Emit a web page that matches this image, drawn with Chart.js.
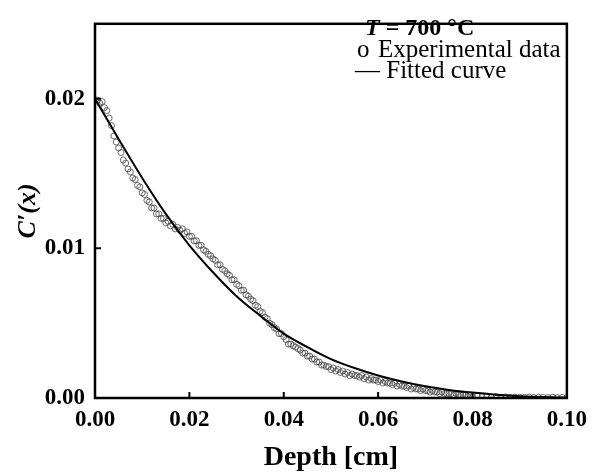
<!DOCTYPE html>
<html>
<head>
<meta charset="utf-8">
<script src="https://cdn.jsdelivr.net/npm/chart.js@4"></script>
<style>
  html, body { margin: 0; padding: 0; background: #fff; }
  #wrap { width: 595px; height: 472px; }
</style>
</head>
<body>
<div id="wrap"><canvas id="chart" width="595" height="472"></canvas></div>
<script>
// ---- data ----
const xTicks = [0, 0.02, 0.04, 0.06, 0.08, 0.10];
const yTicks = [0, 0.01, 0.02];

const expDepth = [
  0.0005,0.0010,0.0015,0.0020,0.0025,0.0030,0.0035,0.0040,0.0045,0.0050,
  0.0055,0.0060,0.0065,0.0070,0.0075,0.0080,0.0085,0.0090,0.0095,0.0100,
  0.0105,0.0110,0.0115,0.0120,0.0125,0.0130,0.0135,0.0140,0.0145,0.0150,
  0.0155,0.0160,0.0165,0.0170,0.0175,0.0180,0.0185,0.0190,0.0195,0.0200,
  0.0205,0.0210,0.0215,0.0220,0.0225,0.0230,0.0235,0.0240,0.0245,0.0250,
  0.0255,0.0260,0.0265,0.0270,0.0275,0.0280,0.0285,0.0290,0.0295,0.0300,
  0.0305,0.0310,0.0315,0.0320,0.0325,0.0330,0.0335,0.0340,0.0345,0.0350,
  0.0355,0.0360,0.0365,0.0370,0.0375,0.0380,0.0385,0.0390,0.0395,0.0400,
  0.0405,0.0410,0.0415,0.0420,0.0425,0.0430,0.0435,0.0440,0.0445,0.0450,
  0.0455,0.0460,0.0465,0.0470,0.0475,0.0480,0.0485,0.0490,0.0495,0.0500,
  0.0505,0.0510,0.0515,0.0520,0.0525,0.0530,0.0535,0.0540,0.0545,0.0550,
  0.0555,0.0560,0.0565,0.0570,0.0575,0.0580,0.0585,0.0590,0.0595,0.0600,
  0.0605,0.0610,0.0615,0.0620,0.0625,0.0630,0.0635,0.0640,0.0645,0.0650,
  0.0655,0.0660,0.0665,0.0670,0.0675,0.0680,0.0685,0.0690,0.0695,0.0700,
  0.0705,0.0710,0.0715,0.0720,0.0725,0.0730,0.0735,0.0740,0.0745,0.0750,
  0.0755,0.0760,0.0765,0.0770,0.0775,0.0780,0.0785,0.0790,0.0795,0.0800,
  0.0810,0.0820,0.0830,0.0840,0.0850,0.0860,0.0870,0.0880,0.0890,0.0900,
  0.0910,0.0920,0.0930,0.0940,0.0950,0.0960,0.0970,0.0980,0.0990,0.1000
];
const expC = [
  0.0199,0.0197,0.0198,0.0194,0.0192,0.0187,0.0182,0.0175,0.0171,0.0167,
  0.0164,0.0159,0.0157,0.0153,0.0151,0.0147,0.0146,0.0142,0.0141,0.0137,
  0.0136,0.0132,0.0131,0.0127,0.0127,0.0123,0.0123,0.0120,0.0120,0.0117,
  0.0118,0.0115,0.0116,0.0113,0.0114,0.0112,0.0113,0.0110,0.0111,0.0108,
  0.0108,0.0105,0.0105,0.0102,0.0102,0.0099,0.0098,0.0096,0.0095,0.0093,
  0.0092,0.0089,0.0089,0.0086,0.0085,0.0083,0.0082,0.0079,0.0079,0.0076,
  0.0075,0.0072,0.0072,0.0069,0.0068,0.0066,0.0065,0.0062,0.0061,0.0058,
  0.0057,0.0054,0.0053,0.0050,0.0049,0.0047,0.0046,0.0043,0.0043,0.0041,
  0.0039,0.0036,0.0036,0.0035,0.0034,0.0033,0.0032,0.0030,0.0030,0.0028,
  0.0028,0.0026,0.0026,0.0024,0.0024,0.0022,0.0022,0.0021,0.0021,0.0019,
  0.0020,0.0018,0.0019,0.0017,0.0018,0.0016,0.0017,0.0015,0.0016,0.0015,
  0.0015,0.0014,0.0015,0.0013,0.0014,0.0012,0.0013,0.0012,0.0012,0.0011,
  0.0012,0.0010,0.0011,0.0010,0.0010,0.0009,0.0010,0.0008,0.0009,0.0008,
  0.0008,0.0007,0.0008,0.0006,0.0007,0.0006,0.0006,0.0005,0.0006,0.0005,
  0.0005,0.0004,0.0005,0.0004,0.0004,0.0003,0.0004,0.0003,0.0003,0.0003,
  0.0003,0.0002,0.0003,0.0002,0.0002,0.0002,0.0002,0.0001,0.0002,0.0001,
  0.00012,0.00008,0.00010,0.00006,0.00009,0.00005,0.00007,0.00004,0.00006,0.00005,
  0.00004,0.00006,0.00003,0.00005,0.00004,0.00003,0.00005,0.00003,0.00004,0.00003
];

const fitDepth = [0, 0.005, 0.010, 0.015, 0.020, 0.025, 0.030, 0.035, 0.040, 0.045, 0.050,
                  0.055, 0.060, 0.065, 0.070, 0.075, 0.080, 0.085, 0.090, 0.095, 0.100];
const fitC = [0.0200, 0.0173, 0.0147, 0.0123, 0.0102, 0.0084, 0.0068, 0.0055, 0.0043, 0.0034, 0.0026,
              0.0020, 0.0015, 0.0011, 0.00078, 0.00054, 0.00036, 0.00022, 0.00012, 0.00006, 0.00003];

const SERIF = "'Liberation Serif', 'Times New Roman', serif";

// frame + inward tick marks + the text legend in the top right corner
const framePlugin = {
  id: 'frame',
  afterDraw(chart) {
    const { ctx, chartArea: a, scales: { x, y } } = chart;
    ctx.save();
    ctx.strokeStyle = '#000';
    ctx.lineWidth = 2.5;
    ctx.strokeRect(a.left, a.top, a.right - a.left, a.bottom - a.top);

    ctx.lineWidth = 2;
    ctx.beginPath();
    xTicks.slice(1, -1).forEach(v => {
      const px = x.getPixelForValue(v);
      ctx.moveTo(px, a.bottom);
      ctx.lineTo(px, a.bottom - 6);
    });
    yTicks.slice(1).forEach(v => {
      const py = y.getPixelForValue(v);
      ctx.moveTo(a.left, py);
      ctx.lineTo(a.left + 6, py);
    });
    ctx.stroke();

    // legend text
    ctx.fillStyle = '#000';
    ctx.textBaseline = 'middle';
    ctx.textAlign = 'left';
    let tx = 365;
    ctx.font = `italic bold 24px ${SERIF}`;
    ctx.fillText('T', tx, 29);
    tx += ctx.measureText('T').width;
    ctx.font = `bold 24px ${SERIF}`;
    ctx.fillText(' = 700 °C', tx, 29);

    ctx.font = `25px ${SERIF}`;
    ctx.fillText('o', 357, 50);
    ctx.fillText('Experimental data', 378, 50);
    ctx.fillText('— Fitted curve', 355, 71);
    ctx.restore();
  }
};

new Chart(document.getElementById('chart'), {
  type: 'scatter',
  data: {
    datasets: [
      {
        label: 'Fitted curve',
        data: fitDepth.map((d, i) => ({ x: d, y: fitC[i] })),
        showLine: true,
        borderColor: '#000',
        borderWidth: 2,
        pointRadius: 0,
        cubicInterpolationMode: 'monotone',
        order: 0
      },
      {
        label: 'Experimental data',
        data: expDepth.map((d, i) => ({ x: d, y: expC[i] })),
        showLine: false,
        pointStyle: 'circle',
        pointRadius: 3,
        borderWidth: 1,
        borderColor: 'rgba(70,70,70,0.8)',
        backgroundColor: 'rgba(0,0,0,0)',
        order: 1
      }
    ]
  },
  options: {
    responsive: false,
    animation: false,
    layout: { padding: { top: 13, right: 23, left: 0, bottom: 0 } },
    plugins: { legend: { display: false }, tooltip: { enabled: false } },
    scales: {
      x: {
        type: 'linear',
        min: 0, max: 0.1,
        afterBuildTicks: s => { s.ticks = xTicks.map(v => ({ value: v })); },
        afterFit: s => { s.height = 74; },
        grid: { display: false, drawTicks: false },
        border: { display: false },
        ticks: {
          padding: 8,
          color: '#000',
          font: { family: SERIF, size: 23, weight: 'bold' },
          callback: v => v.toFixed(2)
        },
        title: {
          display: true,
          text: 'Depth [cm]',
          color: '#000',
          font: { family: SERIF, size: 28, weight: 'bold', lineHeight: 1 },
          padding: { top: 0, bottom: 0 }
        }
      },
      y: {
        type: 'linear',
        min: 0, max: 0.025,
        afterBuildTicks: s => { s.ticks = yTicks.map(v => ({ value: v })); },
        afterFit: s => { s.width = 95; },
        grid: { display: false, drawTicks: false },
        border: { display: false },
        ticks: {
          padding: 10,
          color: '#000',
          font: { family: SERIF, size: 23, weight: 'bold' },
          callback: v => v.toFixed(2)
        },
        title: {
          display: true,
          text: 'C′(x)',
          color: '#000',
          font: { family: SERIF, size: 26, weight: 'bold', style: 'italic', lineHeight: 1 },
          padding: { top: 15, bottom: 0 }
        }
      }
    }
  },
  plugins: [framePlugin]
});
</script>
</body>
</html>
